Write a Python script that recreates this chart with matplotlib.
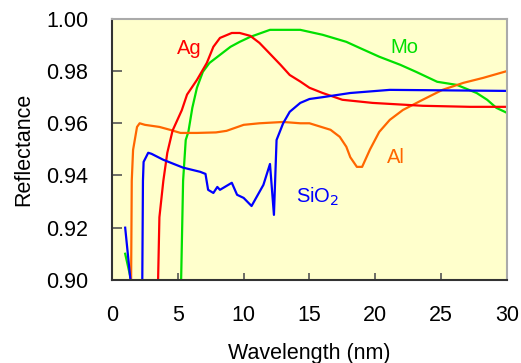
import numpy as np
import matplotlib.pyplot as plt

plt.rcParams['font.family'] = ['Liberation Sans', 'DejaVu Sans']

#%% Data (wavelength in nm, reflectance)
ag_x = [3.5, 3.6, 3.9, 4.2, 4.6, 5.3, 5.7, 6.45, 7.2, 7.7, 8.2, 9.1, 9.7, 10.5,
        11.2, 11.85, 12.8, 13.5, 14.3, 15.0, 16.0, 17.5, 19.8, 23.6, 27.2, 30.0]
ag_y = [0.900, 0.924, 0.938, 0.9487, 0.9572, 0.965, 0.971, 0.9766, 0.9831,
        0.9893, 0.9927, 0.9946, 0.9946, 0.9935, 0.9908, 0.9874, 0.9824,
        0.9785, 0.976, 0.9736, 0.9716, 0.969, 0.9678, 0.9667, 0.9663, 0.9663]

mo_x = [5.25, 5.4, 5.6, 5.8, 6.1, 6.45, 6.9, 7.4, 8.2, 9.0, 9.7, 10.5, 12.0,
        14.3, 16.0, 17.8, 18.8, 20.3, 21.9, 23.1, 24.7, 26.2, 27.7, 28.5, 29.2,
        30.0]
mo_y = [0.900, 0.938, 0.9536, 0.9567, 0.9659, 0.9736, 0.9797, 0.9831, 0.9862,
        0.9893, 0.9912, 0.9931, 0.9958, 0.9958, 0.9939, 0.9912, 0.9889, 0.9855,
        0.9824, 0.9797, 0.9759, 0.9747, 0.9716, 0.969, 0.9659, 0.964]
mo_low_x = [1.0, 1.4]
mo_low_y = [0.910, 0.901]

sio2_x = [2.3, 2.35, 2.4, 2.75, 3.0, 3.9, 5.4, 6.7, 7.1, 7.3, 7.7, 8.0, 8.2,
          9.1, 9.5, 10.0, 10.6, 11.5, 12.0, 12.3, 12.5, 13.0, 13.5, 14.3,
          15.0, 16.0, 18.1, 21.1, 30.0]
sio2_y = [0.900, 0.938, 0.9452, 0.9487, 0.9483, 0.946, 0.943, 0.9414, 0.9406,
          0.9345, 0.9333, 0.9356, 0.9345, 0.9372, 0.9326, 0.9314, 0.9283,
          0.9364, 0.9444, 0.9249, 0.9536, 0.960, 0.9644, 0.9678, 0.9693,
          0.970, 0.9716, 0.9728, 0.9724]
sio2_low_x = [1.0, 1.4]
sio2_low_y = [0.920, 0.900]

al_x = [1.45, 1.5, 1.6, 1.9, 2.1, 2.5, 3.6, 4.4, 5.2, 6.45, 7.9, 8.7, 10.0,
        11.2, 13.0, 14.3, 15.0, 16.6, 17.3, 17.8, 18.1, 18.6, 19.0, 19.6,
        20.3, 21.1, 22.1, 23.6, 25.1, 26.7, 28.2, 30.0]
al_y = [0.900, 0.938, 0.9498, 0.9586, 0.960, 0.9594, 0.9586, 0.9575, 0.9563,
        0.9563, 0.9565, 0.9571, 0.9594, 0.960, 0.9605, 0.960, 0.960, 0.9575,
        0.9548, 0.951, 0.947, 0.9433, 0.9433, 0.950, 0.9567, 0.9613, 0.9651,
        0.969, 0.9728, 0.9755, 0.9774, 0.980]

#%% Plot
fig = plt.figure(figsize=(5.21, 3.63), dpi=100)
ax = fig.add_axes([0.215, 0.229, 0.758, 0.719])
ax.set_facecolor('#FFFFCC')

lw = 1.6
ax.plot(mo_x, mo_y, color='#00E000', lw=lw)
ax.plot(mo_low_x, mo_low_y, color='#00E000', lw=lw)
ax.plot(al_x, al_y, color='#FF6600', lw=lw)
ax.plot(ag_x, ag_y, color='#FF0000', lw=lw)
ax.plot(sio2_x, sio2_y, color='#0000FF', lw=lw)
ax.plot(sio2_low_x, sio2_low_y, color='#0000FF', lw=lw)

fs_lab = 14.5
ax.text(5.85, 0.9885, 'Ag', color='#FF0000', fontsize=fs_lab, ha='center', va='center')
ax.text(22.2, 0.9889, 'Mo', color='#00E000', fontsize=fs_lab, ha='center', va='center')
ax.text(21.6, 0.9467, 'Al', color='#FF6600', fontsize=fs_lab, ha='center', va='center')
ax.text(15.6, 0.932, 'SiO$_2$', color='#0000FF', fontsize=fs_lab, ha='center', va='center')

ax.set_xlim(0, 30)
ax.set_ylim(0.90, 1.00)
ax.set_xticks(np.arange(0, 31, 5))
ax.set_yticks(np.arange(0.90, 1.001, 0.02))
ax.set_yticklabels(['%.2f' % v for v in np.arange(0.90, 1.001, 0.02)])

ax.tick_params(axis='x', direction='in', length=5, width=1.2, color='#555555',
               labelsize=15.5, pad=18)
ax.tick_params(axis='y', direction='in', length=7, width=1.2, color='#555555',
               labelsize=15.5, pad=17)

for side in ['left', 'bottom']:
    ax.spines[side].set_color('#333333')
    ax.spines[side].set_linewidth(1.5)
for side in ['top', 'right']:
    ax.spines[side].set_color('#AAAAAA')
    ax.spines[side].set_linewidth(1.5)

ax.set_xlabel('Wavelength (nm)', fontsize=15.5, labelpad=12)
ax.set_ylabel('Reflectance', fontsize=15.5, labelpad=9)

fig.savefig('out.png', dpi=100)
